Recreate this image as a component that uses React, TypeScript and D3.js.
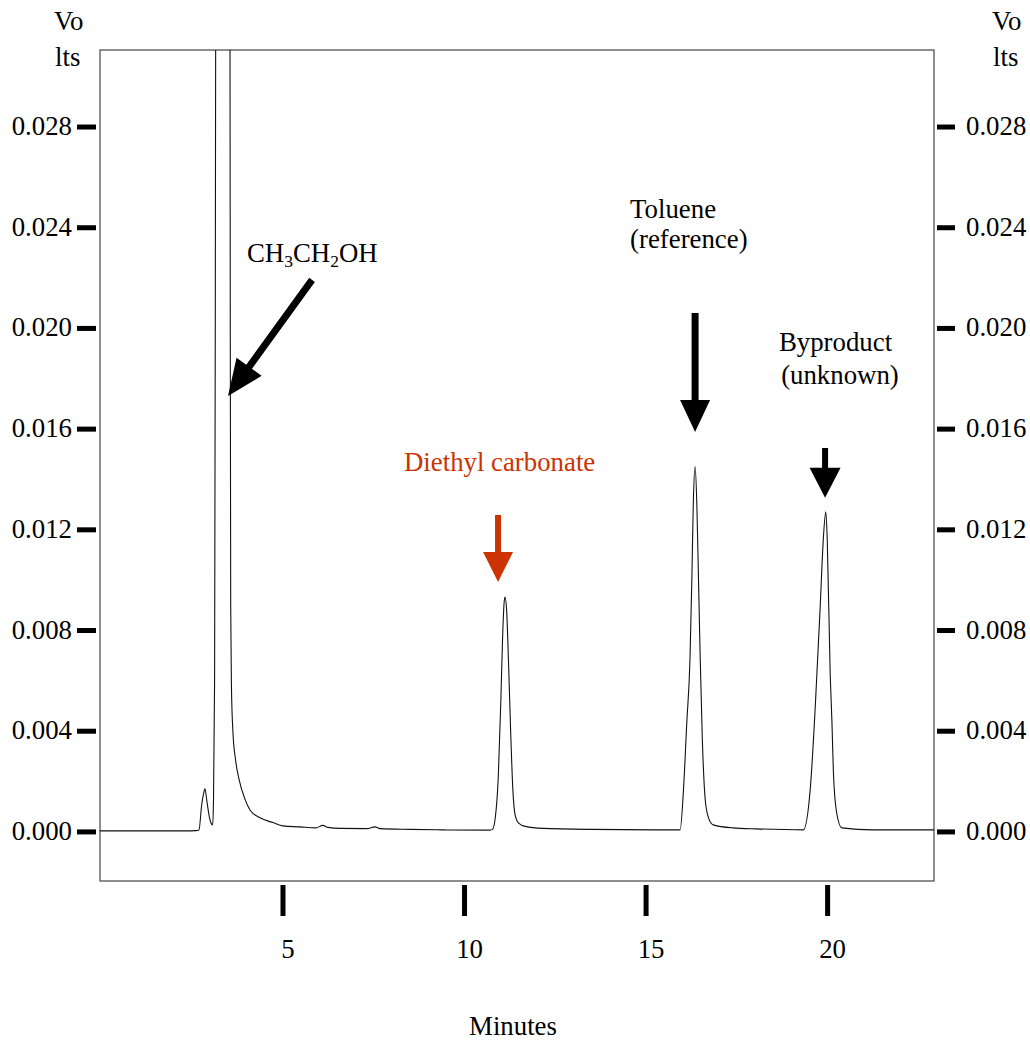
import React from 'react';
import * as d3 from 'd3';

// axis ticks
const yTicks = [0, 0.004, 0.008, 0.012, 0.016, 0.02, 0.024, 0.028];
const xTicks = [5, 10, 15, 20];

// trace, [minutes, volts]
const solventRegion: [number, number][] = [
  [-0.04, 0.00004], [2.3, 0.00004], [2.6, 0.00005], [2.686, 0.00008], [2.76, 0.00107],
  [2.81, 0.0015], [2.851, 0.00171], [2.906, 0.0012], [2.97, 0.00061], [3.03, 0.00032],
  [3.063, 0.00028], [3.085, 0.0012], [3.116, 0.006], [3.135, 0.02], [3.146, 0.032],
  [3.333, 0.09], [3.54, 0.032], [3.548, 0.02], [3.56, 0.009], [3.58, 0.0058],
  [3.62, 0.004], [3.69, 0.0029], [3.793, 0.00207], [3.953, 0.0013], [4.091, 0.00087],
  [4.366, 0.00056], [4.725, 0.00037], [5.0, 0.00024], [5.468, 0.0002], [5.909, 0.00016],
  [6.094, 0.00026], [6.24, 0.00018], [6.57, 0.00014], [7.31, 0.00013], [7.534, 0.0002],
  [7.672, 0.00013], [8.5, 0.0001], [9.41, 0.00008], [10.7, 0.00007],
];
const diethylPeak: [number, number][] = [
  [10.77, 0.0001], [10.85, 0.0006], [10.93, 0.0022], [11.0, 0.0052], [11.05, 0.0078],
  [11.09, 0.0091], [11.116, 0.00933], [11.16, 0.0088], [11.21, 0.0068], [11.27, 0.004],
  [11.33, 0.0017], [11.39, 0.0007], [11.49, 0.00035], [11.67, 0.00022], [12.16, 0.00014],
  [13.46, 0.0001], [15.85, 0.00008],
];
const toluenePeak: [number, number][] = [
  [15.937, 0.00008], [16.03, 0.00167], [16.12, 0.0043], [16.21, 0.0069], [16.26, 0.0100],
  [16.3, 0.0130], [16.35, 0.01451], [16.4, 0.0129], [16.44, 0.0103], [16.49, 0.00696],
  [16.55, 0.00365], [16.63, 0.00127], [16.72, 0.00056], [16.85, 0.00028], [17.39, 0.00016],
  [18.05, 0.00012], [19.33, 0.00008],
];
const byproductPeak: [number, number][] = [
  [19.52, 0.00167], [19.66, 0.00498], [19.796, 0.00895], [19.88, 0.0116], [19.95, 0.01272],
  [19.99, 0.0116], [20.07, 0.00632], [20.12, 0.00433], [20.16, 0.00234], [20.25, 0.00075],
  [20.39, 0.00016], [21.25, 0.00008], [22.93, 0.00008],
];

const trace = [...solventRegion, ...diethylPeak, ...toluenePeak, ...byproductPeak];

// annotation arrows (tail -> tip, data coords)
const arrows = [
  { from: [5.8, 0.02193], to: [3.485, 0.01732], color: '#000', shaft: 7, head: 36, headW: 31 },
  { from: [10.923, 0.01259], to: [10.923, 0.00993], color: '#cc3300', shaft: 6, head: 30, headW: 30 },
  { from: [16.35, 0.02061], to: [16.35, 0.01589], color: '#000', shaft: 7, head: 32, headW: 30 },
  { from: [19.93, 0.01525], to: [19.93, 0.01327], color: '#000', shaft: 6, head: 30, headW: 31 },
];

const notes = [
  { t: 14.56, v: 0.02437, text: 'Toluene', color: '#000' },
  { t: 14.56, v: 0.0232, text: '(reference)', color: '#000' },
  { t: 18.66, v: 0.01911, text: 'Byproduct', color: '#000' },
  { t: 18.72, v: 0.01779, text: '(unknown)', color: '#000' },
  { t: 8.333, v: 0.01434, text: 'Diethyl carbonate', color: '#cc3300' },
];

const W = 1030;
const H = 1040;
const FONT = "'Liberation Serif', 'Times New Roman', Times, serif";

function arrowPath(p0: number[], p1: number[], w: number, L: number, hw: number) {
  const dx = p1[0] - p0[0];
  const dy = p1[1] - p0[1];
  const len = Math.hypot(dx, dy);
  const ux = dx / len, uy = dy / len;
  const nx = -uy, ny = ux;
  const bx = p1[0] - ux * L, by = p1[1] - uy * L;
  const pts = [
    [p0[0] + nx * w / 2, p0[1] + ny * w / 2],
    [bx + nx * w / 2, by + ny * w / 2],
    [bx + nx * hw / 2, by + ny * hw / 2],
    [p1[0], p1[1]],
    [bx - nx * hw / 2, by - ny * hw / 2],
    [bx - nx * w / 2, by - ny * w / 2],
    [p0[0] - nx * w / 2, p0[1] - ny * w / 2],
  ];
  return 'M' + pts.map(p => p.join(',')).join('L') + 'Z';
}

export default function App() {
  const x = d3.scaleLinear().domain([-0.04, 22.93]).range([100, 934]);
  const y = d3.scaleLinear().domain([-0.00195, 0.03106]).range([881, 50]);
  const fmt = d3.format('.3f');

  const line = d3.line<[number, number]>()
    .x(d => x(d[0]))
    .y(d => y(d[1]))
    .curve(d3.curveMonotoneX);

  const [x0, x1] = x.range();
  const [yb, yt] = y.range();

  return (
    <svg width={W} height={H} style={{ position: 'absolute', left: 0, top: 0, background: '#fff', fontFamily: FONT, fontSize: 26.8 }}>
      <defs>
        <clipPath id="plotClip">
          <rect x={x0} y={yt} width={x1 - x0} height={yb - yt} />
        </clipPath>
      </defs>

      {/* frame */}
      <rect x={x0} y={yt} width={x1 - x0} height={yb - yt} fill="none" stroke="#444" strokeWidth={1.2} />

      {/* left and right volt ticks */}
      {yTicks.map(t => (
        <g key={'y' + t}>
          <rect x={77} y={y(t) - 2.5} width={19} height={5} fill="#000" />
          <text x={72} y={y(t) + 8} textAnchor="end">{fmt(t)}</text>
          <rect x={937} y={y(t) - 2.5} width={18} height={5} fill="#000" />
          <text x={966} y={y(t) + 8}>{fmt(t)}</text>
        </g>
      ))}

      {/* minute ticks */}
      {xTicks.map(t => (
        <g key={'x' + t}>
          <rect x={x(t) - 2.5} y={885} width={5} height={31} fill="#000" />
          <text x={x(t) + 5} y={958} textAnchor="middle">{t}</text>
        </g>
      ))}

      {/* axis titles */}
      <text x={54} y={30}>Vo</text>
      <text x={55} y={66}>lts</text>
      <text x={992} y={30}>Vo</text>
      <text x={993} y={66}>lts</text>
      <text x={513} y={1035} textAnchor="middle">Minutes</text>

      {/* trace */}
      <path d={line(trace) || ''} fill="none" stroke="#111" strokeWidth={1.1} clipPath="url(#plotClip)" />

      {/* arrows */}
      {arrows.map((a, i) => (
        <path key={'a' + i}
          d={arrowPath([x(a.from[0]), y(a.from[1])], [x(a.to[0]), y(a.to[1])], a.shaft, a.head, a.headW)}
          fill={a.color} />
      ))}

      {/* labels */}
      <text x={x(4.008)} y={y(0.02264)}>
        CH<tspan fontSize={17.5} dy={5}>3</tspan><tspan dy={-5}>CH</tspan>
        <tspan fontSize={17.5} dy={5}>2</tspan><tspan dy={-5}>OH</tspan>
      </text>
      {notes.map((n, i) => (
        <text key={'n' + i} x={x(n.t)} y={y(n.v)} fill={n.color}>{n.text}</text>
      ))}
    </svg>
  );
}
